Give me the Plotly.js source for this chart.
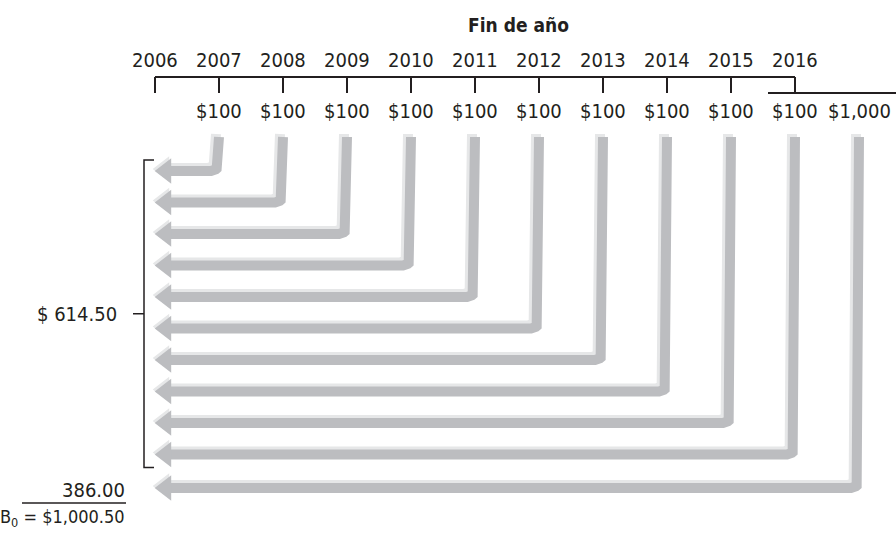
<!DOCTYPE html>
<html>
<head>
<meta charset="utf-8">
<script src="https://cdn.plot.ly/plotly-3.0.1.min.js"></script>
<style>html,body{margin:0;padding:0;background:#fff;}#chart{width:896px;height:534px;}</style>
</head>
<body>
<div id="chart"></div>
<script>
// ---- data ----
const years = [2006, 2007, 2008, 2009, 2010, 2011, 2012, 2013, 2014, 2015, 2016];
const axisTitle = 'Fin de año';
const couponYears = [2007, 2008, 2009, 2010, 2011, 2012, 2013, 2014, 2015, 2016];
const couponLabels = ['$100', '$100', '$100', '$100', '$100', '$100', '$100', '$100', '$100', '$100'];
const principalYear = 2016;
const principalLabel = '$1,000';
const couponPVLabel = '$ 614.50';
const principalPVLabel = '386.00';
const totalLabel = 'B<sub>0</sub> = $1,000.50';

// ---- layout helpers (pixel scale of the drawing) ----
const PX = 64;                       // pixels per year
const X = p => 2006 + (p - 155) / PX; // pixel -> x data
const dx = p => p / PX;
const FONT = '"DejaVu Sans Condensed", "Liberation Sans Narrow", "Arial Narrow", sans-serif';
const INK = '#231f20';
const GRAY = '#bcbdc0';
const LIGHT = '#e6e7e8';

const axisY = 77, tickY = 93, yearLabelY = 60, payLabelY = 111, titleY = 25;
const arrowTop = 137, firstRow = 171, rowStep = 31.5, principalRow = 488;
const tipX = X(153), r = 8, shaftW = 10, hl = 3;

const traces = [];
// timeline line with ticks
traces.push({x: [years[0], years[years.length - 1]], y: [axisY, axisY], mode: 'lines',
  line: {color: INK, width: 2}, hoverinfo: 'skip'});
years.forEach(yr => {
  traces.push({x: [yr, yr], y: [axisY, tickY], mode: 'lines', line: {color: INK, width: 2}, hoverinfo: 'skip'});
});
// step for principal payment line
traces.push({x: [X(768), X(896)], y: [tickY, tickY], mode: 'lines', line: {color: INK, width: 2}, hoverinfo: 'skip'});

function arrow(xv, yh) {
  const cx = xv - dx(r), cy = yh - r;
  const px = [xv], py = [arrowTop];
  for (let k = 0; k <= 12; k++) {
    const t = k / 12 * Math.PI / 2;
    px.push(cx + dx(r) * Math.cos(t));
    py.push(cy + r * Math.sin(t));
  }
  const rt = 11 * 2 / Math.sqrt(3);
  const headX = tipX + dx(rt);
  px.push(headX); py.push(yh);
  // highlight
  traces.push({x: px.map(v => v - dx(hl)), y: py.map(v => v - hl), mode: 'lines',
    line: {color: LIGHT, width: shaftW}, hoverinfo: 'skip'});
  traces.push({x: [headX - dx(2)], y: [yh - 2], mode: 'markers',
    marker: {symbol: 'triangle-left', size: 22, color: LIGHT, line: {width: 0}}, hoverinfo: 'skip'});
  traces.push({x: px, y: py, mode: 'lines', line: {color: GRAY, width: shaftW}, hoverinfo: 'skip'});
  traces.push({x: [headX], y: [yh], mode: 'markers',
    marker: {symbol: 'triangle-left', size: 22, color: GRAY, line: {width: 0}}, hoverinfo: 'skip'});
}
const rows = couponYears.map((yr, i) => firstRow + i * rowStep);
couponYears.forEach((yr, i) => arrow(yr, rows[i]));
const principalX = principalYear + 1; // drawn one column to the right
arrow(principalX, principalRow);

// bracket around coupon arrows
const bTop = rows[0] - 11, bBot = rows[rows.length - 1] + 13, bMid = (bTop + bBot) / 2;
traces.push({x: [X(154), X(144), X(144), X(154)], y: [bTop, bTop, bBot, bBot], mode: 'lines',
  line: {color: INK, width: 1.5}, hoverinfo: 'skip'});
traces.push({x: [X(133), X(144)], y: [bMid, bMid], mode: 'lines', line: {color: INK, width: 1.5}, hoverinfo: 'skip'});
// sum line
traces.push({x: [X(22), X(126)], y: [503, 503], mode: 'lines', line: {color: INK, width: 1.5}, hoverinfo: 'skip'});

const annotations = [];
const txt = (x, y, text, size, opts = {}) => annotations.push(Object.assign({
  x, y, xref: 'x', yref: 'y', text, showarrow: false, xanchor: 'center', yanchor: 'middle',
  font: {family: FONT, size: size, color: INK}
}, opts));
txt(X(518), titleY, '<b>' + axisTitle + '</b>', 19);
years.forEach(yr => txt(yr, yearLabelY, String(yr), 20));
couponYears.forEach((yr, i) => txt(yr, payLabelY, couponLabels[i], 20));
txt(principalX, payLabelY, principalLabel, 20);
txt(X(119), bMid, couponPVLabel, 20, {xanchor: 'right'});
txt(X(127), 490, principalPVLabel, 20, {xanchor: 'right'});
txt(X(127), 518, totalLabel, 18, {xanchor: 'right'});

const layout = {
  width: 896, height: 534,
  margin: {l: 0, r: 0, t: 0, b: 0},
  paper_bgcolor: '#ffffff', plot_bgcolor: '#ffffff',
  showlegend: false,
  xaxis: {range: [X(0), X(896)], visible: false, fixedrange: true},
  yaxis: {range: [534, 0], visible: false, fixedrange: true},
  annotations
};
Plotly.newPlot('chart', traces, layout, {staticPlot: true, displayModeBar: false});
</script>
</body>
</html>
